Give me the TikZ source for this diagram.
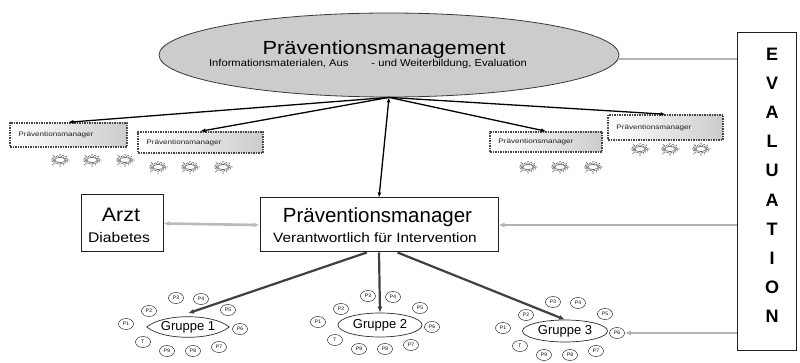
\documentclass[tikz,border=0pt]{standalone}
\usepackage{fontspec}
\usepackage{graphicx}
\setmainfont{Liberation Sans}
\usetikzlibrary{shapes.geometric,shapes.symbols,arrows.meta,calc}
\newcommand{\hsq}[2]{\scalebox{#1}[1]{#2}}
\newcommand{\fs}[1]{\fontsize{#1}{#1}\selectfont}
\begin{document}
\begin{tikzpicture}[x=1pt,y=-1pt,
  mgmtstyle/.style={ellipse, draw=gray!45!black, fill=gray!40, line width=0.8pt, minimum width=460pt, minimum height=84pt, inner sep=0pt},
  mainbox/.style={draw=gray!25!black, line width=1pt, fill=white, inner sep=0pt},
  txt/.style={inner sep=0pt, anchor=base},
  smallbox/.style={draw=gray!55!black, densely dotted, line width=1.5pt, left color=white, right color=gray!40, inner sep=0pt},
  smalltxt/.style={inner sep=0pt, anchor=west, font=\fs{6.5}, text=gray!25!black},
  sun/.style={starburst, starburst points=16, starburst point height=4pt, draw=gray!50!black, densely dotted, line width=0.6pt, minimum width=21pt, minimum height=14pt, inner sep=0pt},
  sunin/.style={ellipse, draw=gray!40!black, line width=0.5pt, minimum width=11pt, minimum height=5pt, inner sep=0pt},
  part/.style={ellipse, draw=gray!35!black, line width=0.5pt, minimum width=15pt, minimum height=11pt, inner sep=0pt, font=\fs{5}},
  grp/.style={ellipse, draw=gray!35!black, line width=0.7pt, inner sep=0pt, font=\fs{13}},
  grpline/.style={draw=gray!35!black, line width=0.7pt},
  blackarrow/.style={-{Latex[length=5pt,width=4pt]}, line width=1.3pt, black},
  grparrow/.style={-{Latex[length=6pt,width=5pt]}, line width=2.2pt, gray!50!black},
  evline/.style={line width=2.2pt, gray!60},
  evarrow/.style={evline, -{Latex[length=6pt,width=5pt]}},
  arztarrow/.style={{Latex[length=6pt,width=5pt]}-{Latex[length=6pt,width=5pt]}, line width=2.6pt, gray!55}
]
\fill[white] (0,0) rectangle (800,363);
\useasboundingbox (0,0) rectangle (800,363);

% top ellipse
\node[mgmtstyle] (mgmt) at (389,55) {};
\node[txt] (mgmtT) at (384,55) {\hsq{1.15}{\fs{19}Präventionsmanagement}};
\node[txt] (mgmtS) at (368,67) {\hsq{1.12}{\fs{10}Informationsmaterialen, Aus\hspace{20.5pt}- und Weiterbildung, Evaluation}};

% evaluation box
\node[mainbox, minimum width=59pt, minimum height=317pt] (ev) at (767,191.5) {};
\foreach \l [count=\i] in {E,V,A,L,U,A,T,I,O,N}
  \node[inner sep=0pt, font=\fs{18}\bfseries] (ev\i) at (772,{54+29.2*(\i-1)}) {\l};

% small manager boxes
\node[smallbox, minimum width=117pt, minimum height=24pt] (b1) at (68.5,135) {};
\node[smallbox, minimum width=125pt, minimum height=21pt] (b2) at (200.5,142.5) {};
\node[smallbox, minimum width=112pt, minimum height=20pt] (b3) at (546,142) {};
\node[smallbox, minimum width=115pt, minimum height=25pt] (b4) at (665.5,127.5) {};
\foreach \b in {b1,b2,b3,b4}
  \node[smalltxt] (\b t) at ([xshift=9pt]\b.west) {\hsq{1.25}{Präventionsmanager}};

% suns
\foreach \n/\x/\y in {11/60/160, 12/92/160, 13/125/160, 21/158/167, 22/190/167, 23/223/167,
                      31/528/167, 32/560/167, 33/593/167, 41/640/149, 42/670/149, 43/701/149}{
  \node[sun] (s\n) at (\x,\y) {};
  \node[sunin] (s\n i) at (\x,\y) {};
}

% Arzt and PM
\node[mainbox, minimum width=82pt, minimum height=57pt] (arzt) at (122,223.5) {};
\node[txt] (arztT) at (121,222) {\hsq{1.1}{\fs{19.5}Arzt}};
\node[txt] (arztS) at (119,243) {\hsq{1.12}{\fs{14}Diabetes}};
\node[mainbox, minimum width=238pt, minimum height=54pt] (pm) at (379,225) {};
\node[txt] (pmT) at (377.5,223) {\fs{20.5}Präventionsmanager};
\node[txt] (pmS) at (375,243) {\hsq{1.14}{\fs{13.5}Verantwortlich für Intervention}};

% groups
\node[minimum width=82pt, minimum height=27pt, inner sep=0pt, font=\fs{13}] (g1) at (188,327) {Gruppe 1};
\draw[grpline] (g1.west) .. controls ([xshift=16pt]g1.north west) and ([xshift=-16pt]g1.north east) .. (g1.east)
  .. controls ([xshift=-16pt]g1.south east) and ([xshift=16pt]g1.south west) .. (g1.west) -- cycle;
\node[grp, minimum width=84pt, minimum height=24pt] (g2) at (380,325) {Gruppe 2};
\node[grp, minimum width=85pt, minimum height=22pt] (g3) at (565,331) {Gruppe 3};
\foreach \g in {g1,g2,g3}
  \foreach \lab/\dx/\dy in {P3/-12/-29, P4/13/-28, P2/-39/-16, P5/40/-17, P1/-62/-3, P6/52/2, T/-45/15, P9/-21/24, P8/5/24, P7/31/20}
    \node[part] (\g\lab) at ($(\g)+(\dx,\dy)$) {\lab};

% connectors
\draw[blackarrow] (mgmt.south) -- (b1.north);
\draw[blackarrow] (mgmt.south) -- (b2.north);
\draw[blackarrow] (mgmt.south) -- (b3.north);
\draw[blackarrow] (mgmt.south) -- (b4.north);
\draw[blackarrow, {Latex[length=5pt,width=4pt]}-{Latex[length=5pt,width=4pt]}] (mgmt.south) -- (pm.north);
\draw[arztarrow] (arzt.east) -- (pm.west);
\draw[grparrow] (pm.-114) -- (g1.north);
\draw[grparrow] (pm.south) -- (g2.north);
\draw[grparrow] (pm.-56) -- (g3.north);
\draw[evline] (mgmt.-1.7) -- (mgmt.-1.7 -| ev.west);
\draw[evarrow] (pm.east -| ev.west) -- (pm.east);
\draw[evarrow] (g3P6.east -| ev.west) -- (g3P6.east);
\end{tikzpicture}
\end{document}
